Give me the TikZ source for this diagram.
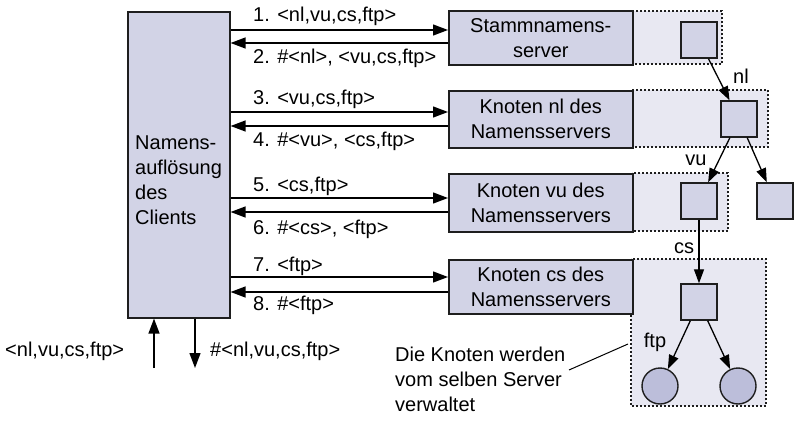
\documentclass[tikz,border=0pt]{standalone}
\usepackage{fontspec}
\setmainfont{Liberation Sans}
\usetikzlibrary{arrows.meta}
\definecolor{boxfill}{RGB}{210,211,230}
\definecolor{regfill}{RGB}{232,232,242}
\definecolor{circfill}{RGB}{188,190,218}
\definecolor{edge}{RGB}{30,30,30}
\begin{document}
\begin{tikzpicture}[x=1pt,y=-1pt,
  font=\fontsize{20}{25}\selectfont,
  cbox/.style={draw=edge, line width=1.6pt, fill=boxfill, inner sep=0pt},
  sbox/.style={draw=edge, line width=1.6pt, fill=boxfill, align=center, inner sep=0pt, minimum width=184pt, anchor=north west},
  region/.style={draw=edge, dash pattern=on 1.8pt off 2.2pt, line width=1.2pt, fill=regfill},
  sq/.style={draw=edge, line width=1.4pt, fill=boxfill, minimum size=36pt, inner sep=0pt},
  circ/.style={circle, draw=edge, line width=1.4pt, fill=circfill, minimum size=36pt, inner sep=0pt},
  arr/.style={line width=1.3pt, -{Triangle[length=15pt,width=11pt]}},
  tarr/.style={line width=1.3pt, -{Triangle[length=14pt,width=10pt]}},
  lbl/.style={anchor=west, inner sep=0pt}]
\useasboundingbox (0,0) rectangle (800,433);
% regions
\draw[region] (632,11) rectangle (722,64);
\draw[region] (632,90) rectangle (768,147);
\draw[region] (632,173) rectangle (728,231);
\draw[region] (631,259) rectangle (766,406);
% client
\node[cbox, minimum width=102pt, minimum height=306pt, anchor=north west] (client) at (127,11) {};
\node[lbl, align=left] (ctext) at (135,180) {Namens-\\auflösung\\des\\Clients};
% servers
\node[sbox, minimum height=54pt] (s0) at (448,10) {Stammnamens-\\server};
\node[sbox, minimum height=57pt] (s1) at (448,90) {Knoten nl des\\Namensservers};
\node[sbox, minimum height=58pt] (s2) at (448,173) {Knoten vu des\\Namensservers};
\node[sbox, minimum height=54pt] (s3) at (448,259) {Knoten cs des\\Namensservers};
% messages
\draw[arr] (client.east |- {0,30}) -- (s0.west |- {0,30});
\draw[arr] (s0.west |- {0,43}) -- (client.east |- {0,43});
\draw[arr] (client.east |- {0,112}) -- (s1.west |- {0,112});
\draw[arr] (s1.west |- {0,126}) -- (client.east |- {0,126});
\draw[arr] (client.east |- {0,198}) -- (s2.west |- {0,198});
\draw[arr] (s2.west |- {0,212}) -- (client.east |- {0,212});
\draw[arr] (client.east |- {0,277}) -- (s3.west |- {0,277});
\draw[arr] (s3.west |- {0,292}) -- (client.east |- {0,292});
\node[lbl] (m1) at (253,16) {1. <nl,vu,cs,ftp>};
\node[lbl] (m2) at (253,58) {2. \#<nl>, <vu,cs,ftp>};
\node[lbl] (m3) at (253,99) {3. <vu,cs,ftp>};
\node[lbl] (m4) at (253,141) {4. \#<vu>, <cs,ftp>};
\node[lbl] (m5) at (253,186) {5. <cs,ftp>};
\node[lbl] (m6) at (253,229) {6. \#<cs>, <ftp>};
\node[lbl] (m7) at (253,266) {7. <ftp>};
\node[lbl] (m8) at (253,305) {8. \#<ftp>};
% tree
\node[sq] (t0) at (699,40) {};
\node[sq] (t1) at (739,119) {};
\node[sq] (t2) at (699,201) {};
\node[sq] (t3) at (775,201) {};
\node[sq] (t4) at (699,302) {};
\node[circ] (c1) at (660,386) {};
\node[circ] (c2) at (738,386) {};
\draw[tarr] (t0) -- (t1);
\draw[tarr] (t1) -- (t2);
\draw[tarr] (t1) -- (t3);
\draw[tarr] (t2) -- (t4);
\draw[tarr] (t4) -- (c1);
\draw[tarr] (t4) -- (c2);
\node (lnl) at (741,76) {nl};
\node (lvu) at (696,160) {vu};
\node (lcs) at (684,248) {cs};
\node (lftp) at (655,342) {ftp};
% annotation
\node[anchor=north west, align=left, inner sep=0pt] (note) at (395,347) {Die Knoten werden\\vom selben Server\\verwaltet};
\coordinate (na) at (569,370);
\coordinate (nb) at (628,344);
\draw[line width=1pt] (na) -- (nb);
% in/out
\coordinate (inp) at (154,368);
\coordinate (outp) at (195,368);
\draw[arr] (inp) -- (client.south -| inp);
\draw[arr] (client.south -| outp) -- (outp);
\node[lbl] (qin) at (5,351) {<nl,vu,cs,ftp>};
\node[lbl] (qout) at (210,351) {\#<nl,vu,cs,ftp>};
\end{tikzpicture}
\end{document}
